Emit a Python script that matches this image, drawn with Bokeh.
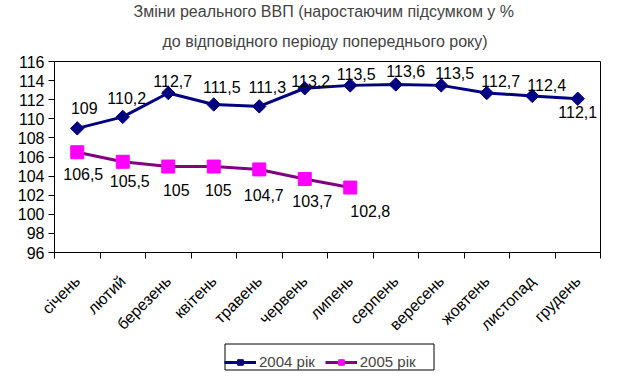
import math
from bokeh.plotting import figure
from bokeh.layouts import column
from bokeh.models import Range1d, FixedTicker, Legend, LegendItem, ColumnDataSource, Title
from bokeh.embed import file_html
from bokeh.resources import INLINE

# ---- data ----
months = ["січень", "лютий", "березень", "квітень", "травень", "червень",
          "липень", "серпень", "вересень", "жовтень", "листопад", "грудень"]
v2004 = [109, 110.2, 112.7, 111.5, 111.3, 113.2, 113.5, 113.6, 113.5, 112.7, 112.4, 112.1]
v2005 = [106.5, 105.5, 105, 105, 104.7, 103.7, 102.8]
y_ticks = [96, 98, 100, 102, 104, 106, 108, 110, 112, 114, 116]
series_names = ["2004 рік", "2005 рік"]
title_lines = ["Зміни реального ВВП  (наростаючим підсумком у %",
               "до відповідного періоду попереднього року)"]

# ---- label placement (style, pixels) ----
dx2004 = [7, 4, 4.5, 8, 8, 6, 6, 10, 13.5, 14, 14.5, 0]
dy2004 = [-20, -19, -12, -17, -19, -7, -11.5, -13, -12, -12, -11, 13]
dx2005 = [6, 7, 8, 4.5, 4.5, 7.5, 20]
dy2005 = [22, 19, 23, 23, 26, 22, 23]

FONT = "Liberation Sans"
FS = "16px"
C04, C05L, C05M = "#000080", "#800080", "#FF00FF"

def fmt(v):
    return f"{v:g}".replace(".", ",")

x_all = [i + 0.5 for i in range(len(months))]
x04 = x_all[:len(v2004)]
x05 = x_all[:len(v2005)]

H_MAIN = 342
p = figure(width=619, height=H_MAIN, x_range=Range1d(0, len(months)),
           y_range=Range1d(y_ticks[0], y_ticks[-1]),
           output_backend="svg", toolbar_location=None,
           min_border_left=54, min_border_right=19, min_border_top=61,
           min_border_bottom=H_MAIN - 253)
p.background_fill_color = "white"
p.border_fill_color = "white"
p.outline_line_color = "black"
p.outline_line_width = 1
p.xgrid.visible = False
p.ygrid.visible = False

# titles
p.title.text = title_lines[0]
p.title.align = "left"
p.title.text_font = FONT
p.title.text_font_size = "16px"
p.title.text_font_style = "normal"
p.title.standoff = 0
p.title.offset = 79
t2 = Title(text=title_lines[1], align="left", text_font=FONT, text_font_size="16px",
           text_font_style="normal", standoff=23, offset=108)
p.add_layout(t2, "above")

# y axis
p.yaxis.ticker = FixedTicker(ticks=y_ticks)
p.yaxis.major_tick_out = 6
p.yaxis.major_tick_in = 0
p.yaxis.minor_tick_line_color = None
p.yaxis.major_label_standoff = 4
p.yaxis.axis_line_color = "black"
p.yaxis.major_tick_line_color = "black"
p.yaxis.major_label_text_font = FONT
p.yaxis.major_label_text_font_size = FS
p.yaxis.major_label_text_color = "black"

# x axis
p.xaxis.ticker = FixedTicker(ticks=x_all, minor_ticks=list(range(len(months) + 1)))
p.xaxis.major_label_overrides = {x: m for x, m in zip(x_all, months)}
p.xaxis.major_tick_line_color = None
p.xaxis.minor_tick_line_color = "black"
p.xaxis.minor_tick_out = 6
p.xaxis.minor_tick_in = 0
p.xaxis.major_tick_out = 6
p.xaxis.major_label_orientation = math.pi / 4
p.xaxis.major_label_standoff = 20
p.xaxis.axis_line_color = "black"
p.xaxis.major_label_text_font = FONT
p.xaxis.major_label_text_font_size = FS
p.xaxis.major_label_text_color = "black"

# series
p.line(x04, v2004, line_color=C04, line_width=3)
p.scatter(x04, v2004, marker="square", angle=math.pi / 4, size=9.5,
          fill_color=C04, line_color=C04)
p.line(x05, v2005, line_color=C05L, line_width=3)
p.scatter(x05, v2005, marker="square", size=13, fill_color=C05M, line_color=C05M)

src04 = ColumnDataSource(dict(x=x04, y=v2004, t=[fmt(v) for v in v2004], dx=dx2004, dy=dy2004))
src05 = ColumnDataSource(dict(x=x05, y=v2005, t=[fmt(v) for v in v2005], dx=dx2005, dy=dy2005))
for src in (src04, src05):
    p.text(x="x", y="y", text="t", x_offset="dx", y_offset="dy", source=src,
           text_align="center", text_baseline="middle", text_font_size=FS,
           text_color="black", text_font={"value": FONT})

# legend strip (separate figure beneath the chart; its frame is aligned with the chart frame,
# and its ranges are in pixels so the legend box can be drawn in place)
H_LEG = 379 - H_MAIN
pl = figure(width=619, height=H_LEG, x_range=Range1d(54, 600), y_range=Range1d(0, H_LEG),
            output_backend="svg", toolbar_location=None, x_axis_type=None, y_axis_type=None,
            min_border_left=54, min_border_right=19, min_border_top=0, min_border_bottom=0)
pl.outline_line_color = None
pl.xgrid.visible = False
pl.ygrid.visible = False
pl.background_fill_color = "white"
pl.border_fill_color = "white"

# legend frame (style geometry, pixels)
BOX_L, BOX_R, BOX_B, BOX_T = 224.5, 433.5, 9.5, 35.5
pl.quad(left=[BOX_L], right=[BOX_R], bottom=[BOX_B], top=[BOX_T],
        fill_color=None, line_color="black", line_width=1)

off = [-10]  # sample glyphs kept off-screen; only their legend swatches show
ll04 = pl.line(off, off, line_color=C04, line_width=3)
lm04 = pl.scatter(off, off, marker="square", angle=math.pi / 4, size=9.5, fill_color=C04, line_color=C04)
ll05 = pl.line(off, off, line_color=C05L, line_width=3)
lm05 = pl.scatter(off, off, marker="square", size=11, fill_color=C05M, line_color=C05M)
legend = Legend(items=[LegendItem(label=series_names[0], renderers=[ll04, lm04]),
                       LegendItem(label=series_names[1], renderers=[ll05, lm05])],
                orientation="horizontal", location=(224 - 54, 9),
                border_line_color=None,
                background_fill_alpha=0,
                padding=5, spacing=10, label_standoff=3,
                glyph_width=32, glyph_height=14, label_height=14,
                label_text_font=FONT, label_text_font_size="15px", margin=0)
pl.add_layout(legend)

layout = column(p, pl, spacing=0)
open("out.html", "w").write(file_html(layout, INLINE))
